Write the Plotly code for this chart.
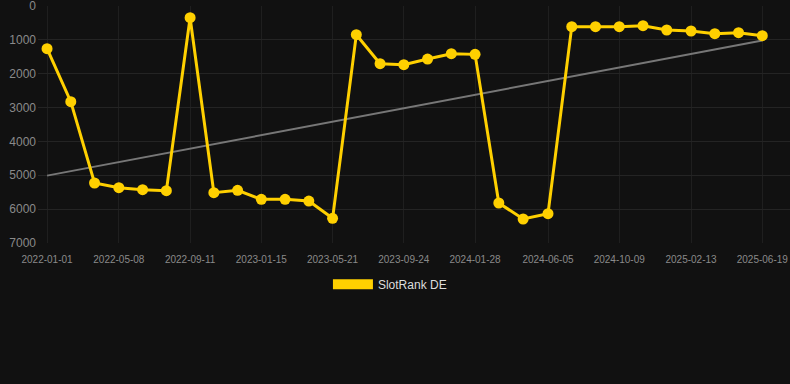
import plotly.graph_objects as go

dates = [
    "2022-01-01", "2022-02-12", "2022-03-26", "2022-05-08", "2022-06-19", "2022-07-31",
    "2022-09-11", "2022-10-23", "2022-12-04", "2023-01-15", "2023-02-26", "2023-04-09",
    "2023-05-21", "2023-07-02", "2023-08-13", "2023-09-24", "2023-11-05", "2023-12-17",
    "2024-01-28", "2024-03-10", "2024-04-22", "2024-06-05", "2024-07-17", "2024-08-28",
    "2024-10-09", "2024-11-20", "2025-01-01", "2025-02-13", "2025-03-27", "2025-05-08",
    "2025-06-19",
]
ranks = [
    1260, 2826, 5228, 5366, 5425, 5454,
    345, 5513, 5445, 5710, 5710, 5760,
    6271, 847, 1703, 1733, 1566, 1408,
    1428, 5819, 6291, 6134, 610, 610,
    610, 581, 709, 738, 817, 788,
    876,
]
trend_dates = ["2022-01-01", "2025-06-19"]
trend_values = [5010, 1020]

tick_dates = ["2022-01-01", "2022-05-08", "2022-09-11", "2023-01-15", "2023-05-21",
              "2023-09-24", "2024-01-28", "2024-06-05", "2024-10-09", "2025-02-13",
              "2025-06-19"]
y_ticks = [0, 1000, 2000, 3000, 4000, 5000, 6000, 7000]

series_name = "SlotRank DE"
yellow = "#FFD000"

fig = go.Figure()
fig.add_trace(go.Scatter(
    x=trend_dates, y=trend_values, mode="lines",
    line=dict(color="#777777", width=2), showlegend=False, hoverinfo="skip"))
fig.add_trace(go.Scatter(
    x=dates, y=ranks, mode="lines+markers", name=series_name,
    line=dict(color=yellow, width=3), marker=dict(color=yellow, size=11),
    showlegend=False))
fig.add_trace(go.Scatter(
    x=[None], y=[None], mode="lines", name=series_name,
    line=dict(color=yellow, width=11), showlegend=True))

fig.update_layout(
    width=790, height=384,
    paper_bgcolor="#111111", plot_bgcolor="#111111",
    margin=dict(l=38, r=0, t=6, b=141),
    font=dict(family="Arial, Liberation Sans, sans-serif", color="#8a8a8a"),
    showlegend=True,
    legend=dict(orientation="h", x=0.468, xanchor="center", y=-0.113, yanchor="top",
                font=dict(size=12, color="#dddddd"), itemwidth=40),
    xaxis=dict(
        type="date", range=["2021-12-16", "2025-08-07"],
        tickvals=tick_dates, ticktext=tick_dates,
        tickfont=dict(size=10, color="#8a8a8a"),
        showgrid=True, gridcolor="#1f1f1f", gridwidth=1,
        zeroline=False, showline=False, ticks="", ticklabelstandoff=9,
        ticklabeloverflow="allow",
    ),
    yaxis=dict(
        range=[7000, 0], tickvals=y_ticks,
        tickfont=dict(size=12, color="#8a8a8a"),
        showgrid=True, gridcolor="#242424", gridwidth=1,
        zeroline=False, showline=False, ticks="", ticklabelstandoff=1,
        ticklabeloverflow="allow",
    ),
)

fig.write_html("out.html",
               config={"displayModeBar": False},
               post_script="document.body.style.margin='0';document.body.style.background='#111111';")
